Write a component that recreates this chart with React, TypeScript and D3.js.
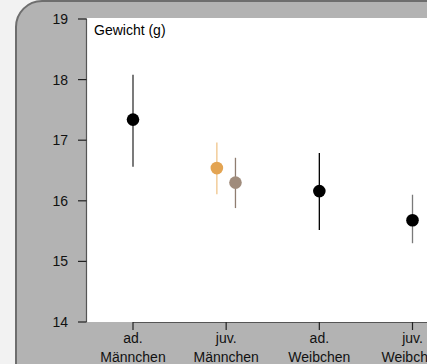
import React from "react";
import * as d3 from "d3";

const categories = ["ad.|Männchen", "juv.|Männchen", "ad.|Weibchen", "juv.|Weibchen"];
const pointCategory = [0, 1, 1, 2, 3];
const pointOffset = [0, -1, 1, 0, 0];
const means = [17.34, 16.54, 16.3, 16.16, 15.68];
const lows = [16.56, 16.11, 15.88, 15.52, 15.3];
const highs = [18.08, 16.96, 16.71, 16.79, 16.1];
const pointColors = ["#000000", "#e3a452", "#a08c7c", "#000000", "#000000"];
const barColors = ["#333333", "#f0c58a", "#8f7d70", "#000000", "#7a7a7a"];
const yTicks = [14, 15, 16, 17, 18, 19];
const yLabel = "Gewicht (g)";

export default function App() {
  const W = 427, H = 364;
  const y = d3.scaleLinear().domain([14, 19]).range([322, 19]);
  const x = d3.scalePoint<number>().domain(d3.range(categories.length)).range([133, 412.5]);
  const font = "'Liberation Sans', Arial, Helvetica, sans-serif";
  const axisColor = "#555";
  const fs = 14;
  return (
    <svg width={W} height={H} style={{ position: "absolute", left: 0, top: 0 }} fontFamily={font}>
      <rect x={0} y={0} width={W} height={H} fill="#f2f2f2" />
      <rect x={16} y={1} width={W + 40} height={H + 40} rx={26} ry={26} fill="#b3b3b3" stroke="#6e6e6e" strokeWidth={2} />
      <rect x={87} y={18} width={W - 87} height={322 - 18} fill="#ffffff" />
      {/* y axis */}
      <line x1={86.5} x2={86.5} y1={y(19)} y2={y(14)} stroke={axisColor} strokeWidth={1.2} />
      {yTicks.map((t) => (
        <g key={t}>
          <line x1={78} x2={86.5} y1={y(t)} y2={y(t)} stroke="#222" strokeWidth={1.2} />
          <text x={68} y={y(t)} dy="0.35em" textAnchor="end" fontSize={fs} fill="#111">{t}</text>
        </g>
      ))}
      {/* x axis */}
      <line x1={x(0)!} x2={W} y1={322.5} y2={322.5} stroke={axisColor} strokeWidth={1.2} />
      {categories.map((c, i) => {
        const [a, b] = c.split("|");
        const cx = x(i)!;
        return (
          <g key={c}>
            <line x1={cx} x2={cx} y1={322} y2={330} stroke="#222" strokeWidth={1.2} />
            <text x={cx} y={343} textAnchor="middle" fontSize={fs} fill="#111">{a}</text>
            <text x={cx} y={361.5} textAnchor="middle" fontSize={fs} fill="#111">{b}</text>
          </g>
        );
      })}
      <text x={94} y={35} fontSize={fs} fill="#000">{yLabel}</text>
      {means.map((m, i) => {
        const cx = x(pointCategory[i])! + pointOffset[i] * 9.3;
        return (
          <g key={i}>
            <line x1={cx} x2={cx} y1={y(highs[i])} y2={y(lows[i])} stroke={barColors[i]} strokeWidth={1.3} />
            <circle cx={cx} cy={y(m)} r={6.3} fill={pointColors[i]} />
          </g>
        );
      })}
    </svg>
  );
}
